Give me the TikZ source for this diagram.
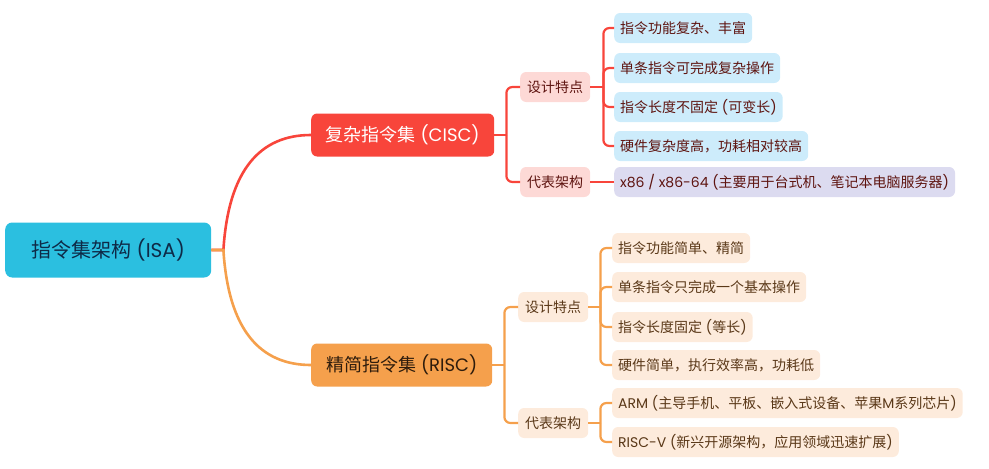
\documentclass[tikz,border=0pt]{standalone}
\usepackage{fontspec}
\setmainfont{Noto Sans CJK SC}
\newfontfamily\lat{Poppins}
\usepackage{xcolor}
\usepackage{tikz}

\definecolor{rootblue}{HTML}{2BBFE0}
\definecolor{rootink}{HTML}{0E2A47}
\definecolor{ciscred}{HTML}{F8453B}
\definecolor{ciscpale}{HTML}{FDD9D6}
\definecolor{cisclight}{HTML}{CDECFB}
\definecolor{ciscx}{HTML}{DCDBF0}
\definecolor{ciscink}{HTML}{5E1410}
\definecolor{riscorange}{HTML}{F5A04C}
\definecolor{riscpale}{HTML}{FDEBDC}
\definecolor{riscink}{HTML}{5A3818}
\definecolor{riscdark}{HTML}{2E1C0C}

\begin{document}
\begin{tikzpicture}[x=1pt, y=-1pt,
    box/.style={rectangle, rounded corners=6pt, anchor=west, inner xsep=6pt, inner ysep=0pt, minimum height=30pt, font=\fontsize{14}{16}\selectfont},
    cisctag/.style={box, fill=ciscpale, text=ciscink, inner xsep=7pt},
    cisclf/.style={box, fill=cisclight, text=ciscink},
    risctag/.style={box, fill=riscpale, text=riscink, inner xsep=7pt},
    risclf/.style={box, fill=riscpale, text=riscink},
    redline/.style={draw=ciscred, line width=2.2pt, rounded corners=6pt},
    orangeline/.style={draw=riscorange, line width=2.2pt, rounded corners=6pt}]
    \useasboundingbox (0,0) rectangle (989,469);

    \node[box, fill=rootblue, text=rootink, minimum width=206pt, minimum height=55pt, rounded corners=7pt, font=\fontsize{20}{24}\selectfont] (root) at (5,250) {指令集架构{\lat\ (ISA)}};

    \node[box, fill=ciscred, text=white, minimum width=183pt, minimum height=43pt, font=\fontsize{18}{22}\selectfont] (cisc) at (311,135) {复杂指令集{\lat\ (CISC)}};
    \node[box, fill=riscorange, text=riscdark, minimum width=181pt, minimum height=43pt, font=\fontsize{18}{22}\selectfont] (risc) at (311,365) {精简指令集{\lat\ (RISC)}};

    \node[cisctag] (cfeat) at (520,87) {设计特点};
    \node[cisctag] (carch) at (520,182) {代表架构};
    \node[risctag] (rfeat) at (518,307) {设计特点};
    \node[risctag] (rarch) at (518,423) {代表架构};

    \node[cisclf] (c1) at (614,28) {指令功能复杂、丰富};
    \node[cisclf] (c2) at (614,68) {单条指令可完成复杂操作};
    \node[cisclf] (c3) at (614,107) {指令长度不固定{\lat\ (}可变长{\lat )}};
    \node[cisclf] (c4) at (614,146) {硬件复杂度高，功耗相对较高};
    \node[cisclf, fill=ciscx] (cx86) at (614,182) {{\lat x86 / x86-64 (}主要用于台式机、笔记本电脑服务器{\lat )}};

    \node[risclf] (r1) at (612,248) {指令功能简单、精简};
    \node[risclf] (r2) at (612,287) {单条指令只完成一个基本操作};
    \node[risclf] (r3) at (612,327) {指令长度固定{\lat\ (}等长{\lat )}};
    \node[risclf] (r4) at (612,365) {硬件简单，执行效率高，功耗低};
    \node[risclf] (rarm) at (612,403) {{\lat ARM (}主导手机、平板、嵌入式设备、苹果{\lat M}系列芯片{\lat )}};
    \node[risclf] (rriscv) at (612,442) {{\lat RISC-V (}新兴开源架构，应用领域迅速扩展{\lat )}};

    \draw[draw=ciscred, line width=2.6pt] (root.east) -- ++(12,0) .. controls +(5,-80) and +(-51,0) .. (cisc.west);
    \draw[draw=riscorange, line width=2.6pt] (root.east) -- ++(12,0) .. controls +(5,80) and +(-51,0) .. (risc.west);

    \draw[redline] (cisc.east) -- ++(12,0) coordinate (cbus);
    \draw[redline] (cbus) |- (cfeat.west);
    \draw[redline] (cbus) |- (carch.west);
    \draw[redline] (cfeat.east) -- ++(13,0) coordinate (cfbus);
    \foreach \n in {c1,c2,c3,c4}
        \draw[redline] (cfbus) |- (\n.west);
    \draw[redline] (carch.east) -- (cx86.west);

    \draw[orangeline] (risc.east) -- ++(12,0) coordinate (rbus);
    \draw[orangeline] (rbus) |- (rfeat.west);
    \draw[orangeline] (rbus) |- (rarch.west);
    \draw[orangeline] (rfeat.east) -- ++(12,0) coordinate (rfbus);
    \foreach \n in {r1,r2,r3,r4}
        \draw[orangeline] (rfbus) |- (\n.west);
    \draw[orangeline] (rarch.east) -- ++(12,0) coordinate (rabus);
    \draw[orangeline] (rabus) |- (rarm.west);
    \draw[orangeline] (rabus) |- (rriscv.west);
\end{tikzpicture}
\end{document}
